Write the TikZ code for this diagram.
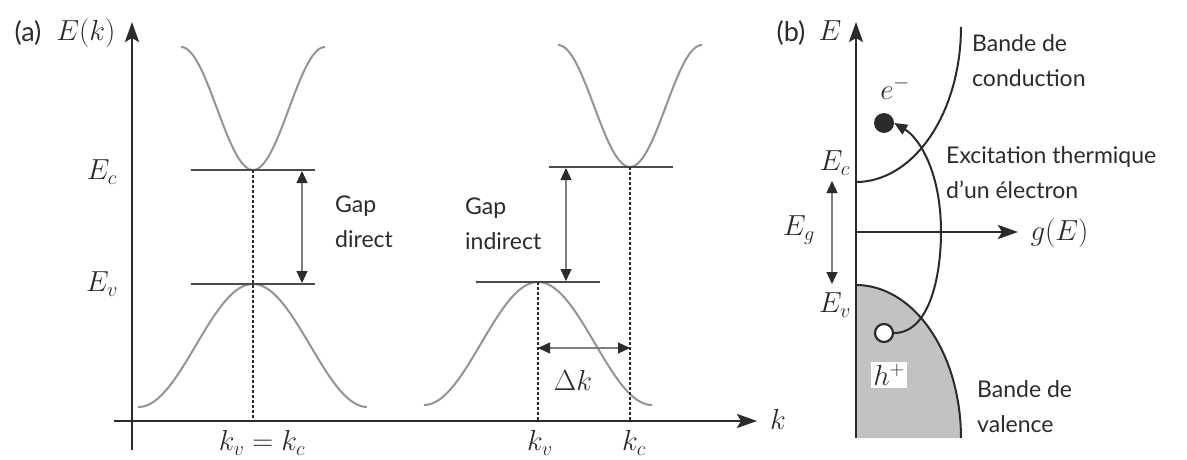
\RequirePackage{fix-cm}
\documentclass[tikz,border=0pt]{standalone}
\usepackage{fontspec}
\setmainfont{Lato}
\usetikzlibrary{positioning, arrows.meta, calc}

\definecolor{ink}{gray}{0.17}
\definecolor{band}{gray}{0.58}
\definecolor{valfill}{gray}{0.76}

\begin{document}
\begin{tikzpicture}[
    x=1pt, y=-1pt,
    font=\fontsize{23}{35}\selectfont,
    every node/.style={text=ink},
    axis/.style={draw=ink, line width=2.6pt, -{Stealth[length=20pt, width=14pt, inset=4pt]}},
    curve/.style={draw=band, line width=2pt},
    lvl/.style={draw=ink!85, line width=1.8pt},
    guide/.style={draw=ink, line width=1.3pt, dash pattern=on 3pt off 2pt},
    gap/.style={draw=ink!60, line width=1.1pt,
                {Triangle[length=12pt, width=11pt, color=ink]}-{Triangle[length=12pt, width=11pt, color=ink]}},
    excite/.style={draw=ink, line width=2pt, -{Triangle[length=13pt, width=11pt]}},
    lbl/.style={align=left, anchor=west, inner sep=0pt},
    mth/.style={font=\fontsize{29}{32}\selectfont},
    tag/.style={font=\fontsize{27}{30}\selectfont},
  ]
\useasboundingbox (0,0) rectangle (1187,460);

% (a) axes
\coordinate (a0) at (132,421);
\draw[axis] (132,450) -- (132,22) coordinate (atop);
\draw[axis] (114,421) -- (757,421) coordinate (aright);
\node[tag] (pa) at (28,33) {(a)};
\node[mth] (Ek) at (86,33) {$E(k)$};
\node[mth] (k) at (778,419) {$k$};

% direct gap
\coordinate (cd) at (253,170);
\coordinate (vd) at (253,284);
\draw[curve] plot[domain=181:325, samples=70] (\x, {108.5+61.5*cos(2.5*(\x-253))});
\draw[curve] plot[domain=138:367, samples=90] (\x, {345.5-61.5*cos(1.5721*(\x-253))});
\draw[lvl] (191,170) -- (315,170);
\draw[lvl] (191,284) -- (315,284);
\draw[guide] (cd) -- (cd |- a0);
\draw[gap] (302,171) -- (302,283);
\node[mth] (Eca) at (102,172) {$E_c$};
\node[mth] (Eva) at (102,284) {$E_v$};
\node[lbl] (gd) at (335,222) {Gap\\direct};
\node[mth] (kvkc) at (262,443) {$k_v = k_c$};

% indirect gap
\coordinate (ci) at (630,167);
\coordinate (vi) at (538,282);
\draw[curve] plot[domain=558:702, samples=70] (\x, {106+61*cos(2.5*(\x-630))});
\draw[curve] plot[domain=424:652, samples=90] (\x, {343.5-61.5*cos(1.5789*(\x-538))});
\draw[lvl] (549,167) -- (673,167);
\draw[lvl] (476,282) -- (600,282);
\draw[guide] (ci) -- (ci |- a0);
\draw[guide] (vi) -- (vi |- a0);
\draw[gap] (566,168) -- (566,281);
\draw[gap] (vi |- 0,348) -- (ci |- 0,348);
\node[lbl] (gi) at (465,224) {Gap\\indirect};
\node[mth] (dk) at (573,380) {$\Delta k$};
\node[mth] (kv) at (540,443) {$k_v$};
\node[mth] (kc) at (634,443) {$k_c$};

% (b) density of states
\fill[valfill] (856,285) -- plot[domain=0:90, samples=60] ({856+105*sin(\x)}, {438-153*cos(\x)}) -- (856,438) -- cycle;
\draw[ink, line width=2pt] plot[domain=0:90, samples=60] ({856+105*sin(\x)}, {438-153*cos(\x)});
\draw[ink, line width=2pt] plot[domain=0:90, samples=60] ({856+105*sin(\x)}, {27+155*cos(\x)});
\draw[axis] (856,438) -- (856,22) coordinate (btop);
\draw[axis] (856,232) -- (1018,232) coordinate (bright);
\node[tag] (pb) at (791,33) {(b)};
\node[mth] (E) at (830,31) {$E$};
\node[mth, anchor=west] (gE) at (1027,233) {$g(E)$};
\node[mth] (Ecb) at (835,163) {$E_c$};
\node[mth] (Evb) at (835,305) {$E_v$};
\node[mth] (Eg) at (799,230) {$E_g$};
\draw[gap] (832,181) -- (832,284);

\node[circle, fill=ink, minimum size=20pt, inner sep=0pt] (elec) at (884,123) {};
\node[mth] (el) at (895,88) {$e^-$};
\node[circle, draw=ink, fill=white, line width=2.2pt, minimum size=18pt, inner sep=0pt] (hole) at (884,333) {};
\node[mth, fill=white, inner sep=2pt] (hl) at (889,375) {$h^+$};
\draw[excite] (hole.east) .. controls +(35,0) and +(0,45) .. (941,232)
    .. controls +(0,-60) and +(25,15) .. (elec.east);

\node[lbl] (bc) at (972,61) {Bande de\\conduction};
\node[lbl] (ex) at (946,173) {Excitation thermique\\d’un électron};
\node[lbl] (bv) at (977,407) {Bande de\\valence};
\end{tikzpicture}
\end{document}
